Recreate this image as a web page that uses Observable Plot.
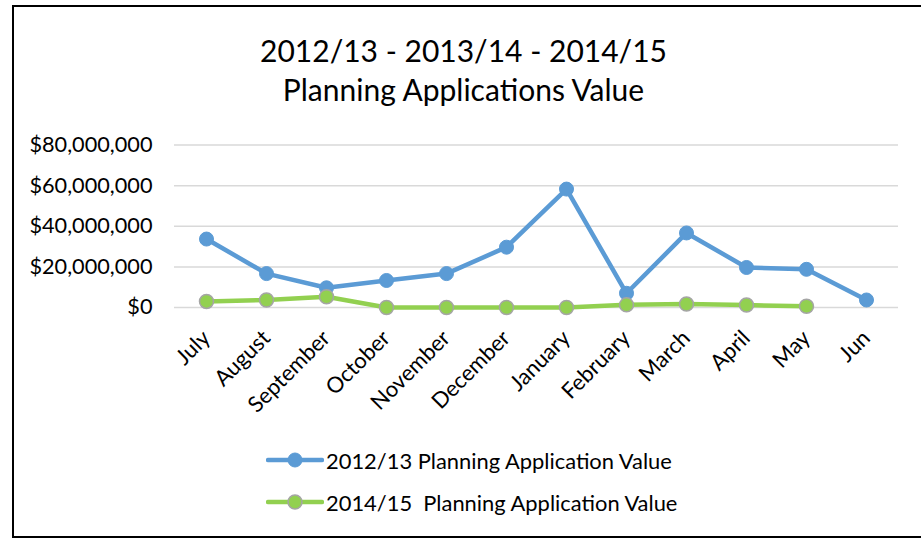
<!DOCTYPE html>
<html><head><meta charset="utf-8">
<script src="https://cdn.jsdelivr.net/npm/d3@7"></script>
<script src="https://cdn.jsdelivr.net/npm/@observablehq/plot@0.6"></script>
<style>
html,body{margin:0;padding:0;background:#fff;overflow:hidden;}
body{width:921px;height:539px;position:relative;font-family:Lato,sans-serif;color:#000;}
#frame{position:absolute;left:12px;top:5px;width:1000px;height:533px;border:2px solid #000;box-sizing:border-box;}
#title{position:absolute;left:3px;top:31px;width:921px;text-align:center;font-size:30px;line-height:38.5px;}
#chart{position:absolute;left:0;top:120px;}
.leg{position:absolute;left:266px;display:flex;align-items:center;font-size:21.9px;white-space:pre;}
.leg svg{margin-right:2px;}
</style></head>
<body>
<div id="frame"></div>
<div id="title">2012/13 - 2013/14 - 2014/15<br>Planning Applications Value</div>
<div id="chart"></div>
<div id="legend"></div>
<script>
const months = ["July","August","September","October","November","December","January","February","March","April","May","Jun"];
const value1213 = [33700000,16700000,9700000,13300000,16700000,29700000,58300000,7000000,36700000,19700000,18800000,3700000];
const value1415 = [3000000,3700000,5300000,0,0,0,0,1300000,1700000,1200000,600000];
const yTicks = [0,20000000,40000000,60000000,80000000];
const seriesNames = ["2012/13 Planning Application Value","2014/15  Planning Application Value"];
const lineColors = ["#5b9bd5","#92d050"];
const markerStroke = ["#5b9bd5","#a5a5a5"];

const blue = months.map((m,i)=>({month:m, value:value1213[i]}));
const green = value1415.map((v,i)=>({month:months[i], value:v}));

const chart = Plot.plot({
  width:921, height:300,
  marginLeft:174, marginRight:23, marginTop:24.5, marginBottom:113,
  x:{type:"point", domain:months, padding:0.5, label:null},
  y:{domain:[0,80000000], label:null},
  style:{fontFamily:"Lato, sans-serif", color:"#000", background:"transparent", overflow:"visible"},
  marks:[
    Plot.gridY(yTicks,{stroke:"#d9d9d9", strokeOpacity:1, strokeWidth:1.5}),
    Plot.axisY({ticks:yTicks, tickSize:0, tickPadding:22, fontSize:21.7, label:null, tickFormat:d=>"$"+d3.format(",")(d)}),
    Plot.axisX({tickSize:0, tickRotate:-45, tickPadding:27, fontSize:22, label:null}),
    Plot.line(blue,{x:"month", y:"value", stroke:lineColors[0], strokeWidth:4.5}),
    Plot.dot(blue,{x:"month", y:"value", r:7, fill:lineColors[0], stroke:markerStroke[0], strokeWidth:1}),
    Plot.line(green,{x:"month", y:"value", stroke:lineColors[1], strokeWidth:4.5}),
    Plot.dot(green,{x:"month", y:"value", r:7, fill:lineColors[1], stroke:markerStroke[1], strokeWidth:1.5})
  ]
});
document.getElementById("chart").appendChild(chart);

const legend = document.getElementById("legend");
const legTops = [445, 487];
seriesNames.forEach((name,i)=>{
  const d = document.createElement("div");
  d.className = "leg";
  d.style.top = legTops[i]+"px";
  d.innerHTML = `<svg width="58" height="30"><line x1="2" x2="56" y1="15" y2="15" stroke="${lineColors[i]}" stroke-width="4.5" stroke-linecap="round"/><circle cx="29" cy="15" r="7" fill="${lineColors[i]}" stroke="${markerStroke[i]}" stroke-width="${i?1.5:1}"/></svg><span>${name}</span>`;
  legend.appendChild(d);
});
</script>
</body></html>
